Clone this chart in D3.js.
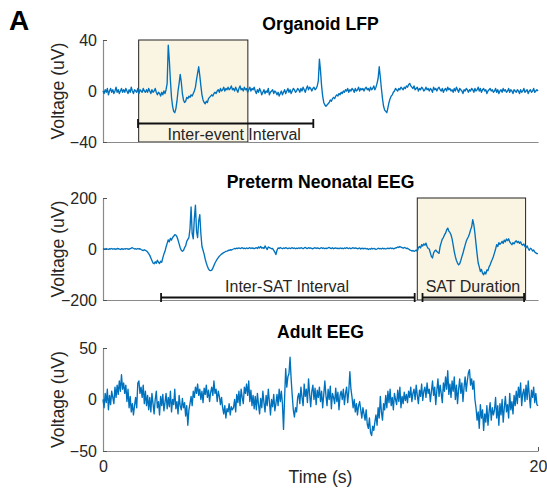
<!DOCTYPE html>
<html><head><meta charset="utf-8">
<script src="https://cdn.jsdelivr.net/npm/d3@7"></script>
<style>
body{margin:0;background:#fff;}
svg{display:block;font-family:"Liberation Sans",Arial,Helvetica,sans-serif;}
</style></head>
<body><svg id="c" width="547" height="490"></svg>
<script>
// ---------- data (uV), sampled every 0.05 s from 0 to 20 s ----------
const dt = 0.05;
const xTicks = [0, 20];
const panelTitles = ["Organoid LFP", "Preterm Neonatal EEG", "Adult EEG"];
const yTicks1 = [-40, 0, 40];
const yTicks2 = [-200, 0, 200];
const yTicks3 = [-50, 0, 50];

const organoid = [
0,-2,1,-1,2,-3,0,2,-1,1,-2,0,3,-1,1,-2,0,2,-1,1,
-1,2,0,-2,1,-1,3,0,-2,1,0,-1,2,-2,1,0,-1,2,0,-1,
1,-1,2,0,-2,1,-1,0,2,-1,-3,-1,-2,-4,-1,-3,0,-2,1,6,
36,24,8,-5,-12,-16,-17,-14,-8,0,6,13,7,-2,-7,-9,-8,-5,-6,-4,
-5,-3,-4,-2,0,3,9,14,19,12,4,-3,-7,-9,-10,-8,-9,-6,-5,-4,
-3,-4,-2,-1,-2,0,1,-1,2,0,1,3,0,2,1,3,1,2,4,1,
2,0,3,1,-1,2,4,1,2,0,3,1,2,-1,1,3,0,2,1,3,
0,-2,1,-1,2,0,-3,-1,1,-2,0,-1,2,-3,-1,0,1,-2,0,-1,
-3,-1,-4,-2,0,-3,-1,1,-2,0,2,-1,1,-2,0,2,1,-1,0,2,
1,-1,2,0,3,1,-1,2,4,1,3,2,0,2,3,1,2,4,8,25,
16,4,-4,-9,-11,-12,-11,-10,-9,-7,-8,-6,-5,-6,-4,-3,-4,-2,-3,-1,
-2,0,-1,1,0,2,-1,1,0,2,1,-1,2,0,1,3,0,2,1,2,
0,2,3,1,2,0,3,1,2,4,1,3,6,10,19,11,2,-6,-12,-15,
-16,-17,-13,-9,-6,-4,-3,-1,0,2,1,0,2,1,3,2,1,3,2,4,
3,5,6,4,3,2,4,1,2,3,0,2,1,3,2,0,1,3,1,2,
0,2,1,-1,3,1,2,0,2,3,1,0,2,-1,1,2,0,3,1,2,
0,1,-1,2,0,3,1,-1,2,1,0,-2,1,0,2,1,-1,1,0,2,
1,-1,2,0,1,3,0,2,-1,1,2,0,1,-2,0,1,2,0,1,-1,
0,2,-1,1,-2,0,1,-1,2,0,1,-1,0,2,-1,1,0,-2,1,0,
-1,1,0,-2,1,-1,0,2,-1,0,1,-2,0,1,-1,0,2,-1,0,1,
0];

const neonatal = [
0,1,-1,2,0,-2,1,0,2,-1,1,0,-1,2,1,0,-2,1,0,-1,
1,0,2,-1,0,1,3,5,2,0,1,-1,2,0,1,-2,-4,-6,-3,-5,
-8,-12,-18,-25,-35,-45,-55,-58,-50,-56,-44,-52,-57,-48,-52,-35,-20,-9,8,22,
36,28,42,35,45,50,56,54,48,35,20,5,-5,-9,-6,5,12,30,38,45,
80,165,60,40,120,172,70,45,110,135,60,10,-5,-20,-40,-55,-68,-78,-84,-85,
-83,-75,-65,-55,-47,-40,-34,-28,-24,-20,-17,-14,-12,-9,-8,-6,-5,-3,-4,-2,
0,2,1,3,2,4,2,3,5,2,3,1,4,2,3,5,2,4,3,2,
3,5,2,8,4,10,3,6,2,12,4,-2,8,5,3,1,2,-5,-12,-22,
-5,4,2,6,3,1,4,2,5,3,1,4,2,3,5,2,4,1,3,2,
4,2,5,3,1,4,6,3,2,5,3,4,2,1,3,5,2,4,3,1,
3,5,2,4,1,3,2,4,6,3,2,5,1,3,4,2,3,1,4,2,
3,1,4,2,5,3,2,4,1,3,5,2,4,3,1,2,4,0,3,2,
1,3,0,2,-2,1,-1,3,0,2,1,-2,0,3,1,2,0,3,1,2,
0,2,3,1,4,2,3,1,2,4,5,8,6,10,7,5,3,6,4,2,
3,0,-3,-5,-8,-6,-9,-7,-4,-9,5,10,4,17,12,20,15,23,10,2,
0,-15,-30,-35,-15,-8,-4,-10,-14,-17,10,25,39,45,55,62,75,82,70,65,
56,40,15,-10,-30,-45,-55,-62,-58,-45,-30,-17,0,15,30,40,48,60,75,87,
115,95,61,20,-20,-55,-70,-88,-80,-95,-101,-90,-98,-82,-85,-70,-62,-50,-40,-29,
-15,0,17,10,25,18,23,30,22,35,28,39,33,40,28,22,17,25,20,28,
32,25,30,22,28,18,15,20,10,5,12,2,-5,3,0,-8,-4,-12,-15,-18,
-18];

const adult = [
0,-8,6,-3,10,-10,4,-5,8,2,-4,12,2,14,5,18,8,24,10,16,
6,14,-2,10,-8,3,-12,-4,-15,-6,2,-8,16,18,6,12,2,14,-4,8,
-6,4,-10,2,-12,6,-4,-14,0,8,-8,-2,-15,3,-6,5,-11,-3,6,-9,
2,-7,8,-12,0,-5,10,-9,-2,-14,4,-6,-10,1,-8,-3,-16,-6,-25,-10,
-4,3,-6,8,2,12,6,15,4,10,0,8,-3,11,5,14,2,9,-2,7,
12,4,18,6,10,-2,8,3,-5,2,-8,-14,-6,-18,-9,-12,-4,-15,-7,-10,
-8,0,-12,5,-3,8,-6,10,2,-4,12,6,15,4,18,-2,9,-6,4,-9,
3,-10,6,-5,-14,1,-8,8,-3,-12,4,-6,10,-2,-15,0,-7,5,-11,-4,
5,-6,10,-2,8,-4,-29,2,30,12,22,25,41,20,4,-10,-17,-8,-12,2,
6,-4,12,2,-6,15,3,10,-3,20,5,-7,8,14,0,11,-5,9,2,12,
-2,8,-8,5,18,4,-6,10,0,13,-9,6,2,-4,11,-2,7,-10,4,8,
0,10,-5,6,12,-3,8,27,10,2,-8,0,-12,-4,-15,-6,-2,-10,-18,-8,
-14,-20,-10,-24,-28,-18,-32,-35,-26,-30,-22,-15,-25,-8,-18,3,-12,-20,-4,-10,
4,-8,8,-3,10,-6,2,-10,6,0,-5,9,-2,12,-8,3,-4,7,-1,5,
-3,8,2,12,-2,6,10,0,14,4,-4,9,3,15,-1,8,12,2,16,6,
10,-2,8,18,4,12,-5,9,20,3,14,6,-3,16,8,22,10,28,5,15,
2,18,8,22,0,14,-4,10,20,6,16,-2,12,22,8,18,26,29,14,20,
10,18,0,-8,-20,-12,-28,-5,-18,-10,-30,-14,-22,-6,-25,-12,-3,-20,-8,-15,
-10,2,-18,-6,-25,-4,-15,0,-22,-8,3,-12,-5,-18,6,-10,-2,-14,4,-6,
8,-4,12,2,16,-6,6,10,-2,14,0,18,4,-8,9,2,12,-3,6,-5,
-6];

// annotation spans (s)
const organoidBox = [1.64, 6.66];
const neonatalBox = [14.45, 19.43];
const interEventBar = [1.61, 9.67];
const interSATBar = [2.67, 14.33];
const satDurationBar = [14.69, 19.36];
const annotationLabels = ["Inter-event Interval", "Inter-SAT Interval", "SAT Duration"];
const annotationLabelX = [6.03, 8.46, 17.01];

// ---------- drawing ----------
const svg = d3.select("#c");
const lineColor = "#0072BD";
const axisColor = "#8a8a8a";
const textColor = "#262626";
const boxFill = "#faf4e3";

const x = d3.scaleLinear().domain([0, 20]).range([103, 538]);

const panels = [
  {data: organoid, dom: [-40, 40], ticks: yTicks1, top: 40, bottom: 142, title: panelTitles[0]},
  {data: neonatal, dom: [-200, 200], ticks: yTicks2, top: 198, bottom: 300, title: panelTitles[1]},
  {data: adult, dom: [-50, 50], ticks: yTicks3, top: 348, bottom: 451, title: panelTitles[2]}
];

svg.append("text").attr("x", 9).attr("y", 30).attr("font-size", 28).attr("font-weight", "bold")
  .attr("fill", "#000").text("A");

panels.forEach((p, k) => {
  const y = d3.scaleLinear().domain(p.dom).range([p.bottom, p.top]);
  const g = svg.append("g");

  const box = k === 0 ? organoidBox : (k === 1 ? neonatalBox : null);
  if (box) {
    g.append("rect").attr("x", x(box[0])).attr("y", p.top)
      .attr("width", x(box[1]) - x(box[0])).attr("height", p.bottom - p.top)
      .attr("fill", boxFill).attr("stroke", "#222").attr("stroke-width", 1);
  }

  const xa = d3.axisBottom(x).tickValues(k === 2 ? xTicks : []).tickSize(-4).tickSizeOuter(0).tickPadding(10)
    .tickFormat(d3.format("d"));
  const gx = g.append("g").attr("transform", `translate(0,${p.bottom})`).call(xa);
  const ya = d3.axisLeft(y).tickValues(p.ticks).tickSize(-4).tickSizeOuter(0).tickPadding(6);
  const gy = g.append("g").attr("transform", `translate(${x(0)},0)`).call(ya);
  [gx, gy].forEach(a => {
    a.select(".domain").attr("stroke", axisColor).attr("stroke-width", 1.2);
    a.selectAll(".tick line").attr("stroke", "#555").attr("stroke-width", 1);
    a.selectAll(".tick text").attr("fill", textColor).attr("font-size", 16)
      .attr("font-family", '"Liberation Sans",Arial,sans-serif');
  });

  const line = d3.line().x((d, i) => x(i * dt)).y(d => y(d));
  g.append("path").datum(p.data).attr("d", line).attr("fill", "none")
    .attr("stroke", lineColor).attr("stroke-width", 1.35).attr("stroke-linejoin", "round");

  g.append("text").attr("x", (x(0) + x(20)) / 2).attr("y", p.top - 10).attr("text-anchor", "middle")
    .attr("font-size", 17.6).attr("font-weight", "bold").attr("fill", "#000").text(p.title);

  g.append("text").attr("transform", `translate(58,${(p.top + p.bottom) / 2}) rotate(-90)`)
    .attr("text-anchor", "middle").attr("dy", "0.35em").attr("font-size", 17.6).attr("fill", textColor)
    .text("Voltage (uV)");
});

svg.append("text").attr("x", (x(0) + x(20)) / 2).attr("y", 483).attr("text-anchor", "middle")
  .attr("font-size", 17.6).attr("fill", textColor).text("Time (s)");

function bar(span, yy) {
  const g = svg.append("g").attr("stroke", "#111").attr("stroke-width", 1.8);
  g.append("line").attr("x1", x(span[0])).attr("x2", x(span[1])).attr("y1", yy).attr("y2", yy);
  span.forEach(s => g.append("line").attr("x1", x(s)).attr("x2", x(s)).attr("y1", yy - 4.5).attr("y2", yy + 4.5));
}
bar(interEventBar, 123.5);
bar(interSATBar, 297.5);
bar(satDurationBar, 297.5);

const labelY = [140, 292, 292];
annotationLabels.forEach((t, i) => {
  svg.append("text").attr("x", x(annotationLabelX[i])).attr("y", labelY[i]).attr("text-anchor", "middle")
    .attr("font-size", 16).attr("fill", textColor).text(t);
});
</script></body></html>
